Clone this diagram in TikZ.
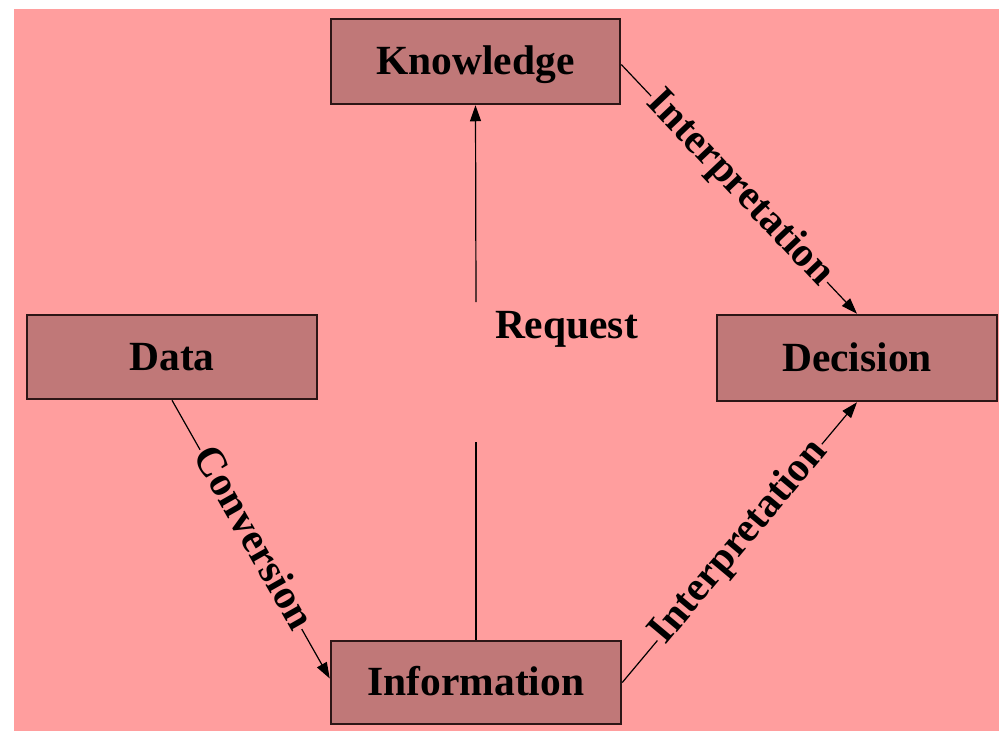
\documentclass[tikz,border=0pt]{standalone}
\usepackage{fontspec}
\setmainfont{Liberation Serif}
\usetikzlibrary{arrows.meta}
\definecolor{bgpink}{RGB}{255,158,158}
\definecolor{boxfill}{RGB}{192,120,120}
\definecolor{boxline}{RGB}{45,22,22}
\newcommand\lblfont{\fontsize{41.5}{48}\selectfont\bfseries}
\begin{document}
\begin{tikzpicture}[x=1pt,y=-1pt,
  box/.style={draw=boxline, line width=2.5pt, fill=boxfill, font=\lblfont, text height=30pt, text depth=4pt, inner sep=0pt},
  plainlbl/.style={font=\lblfont, text height=30pt, text depth=4pt, inner sep=0pt},
  conn/.style={line width=1.2pt, draw=black},
  tip/.style={-{Triangle[length=16pt,width=11pt]}},
  elab/.style={font=\lblfont, sloped, fill=bgpink, inner sep=1.5pt, text height=28pt, text depth=9pt}]
\useasboundingbox (0,0) rectangle (999,731);
\fill[white] (0,0) rectangle (999,731);
\fill[bgpink] (14,9) rectangle (999,731);

\node[box, minimum width=289pt, minimum height=85pt] (K) at (475.5,61.5) {Knowledge};
\node[box, minimum width=290pt, minimum height=84pt] (D) at (172,357) {Data};
\node[box, minimum width=280pt, minimum height=86pt] (Dec) at (857,358) {Decision};
\node[box, minimum width=290pt, minimum height=83pt] (I) at (476,682.5) {Information};
\node[plainlbl] (R) at (566.5,325) {Request};

\coordinate (rlo) at (476,442);
\coordinate (rhi) at (476,302);
\draw[conn] (I.north) -- (rlo);
\draw[conn, tip] (rhi) -- (K.south);

\draw[conn, tip] ([yshift=-3pt]K.east) -- node[elab]{Interpretation} (Dec.north);
\draw[conn, tip] (I.east) -- node[elab]{Interpretation} (Dec.south);
\draw[conn, tip] (D.south) -- node[elab]{Conversion} ([yshift=4pt]I.west);
\end{tikzpicture}
\end{document}
